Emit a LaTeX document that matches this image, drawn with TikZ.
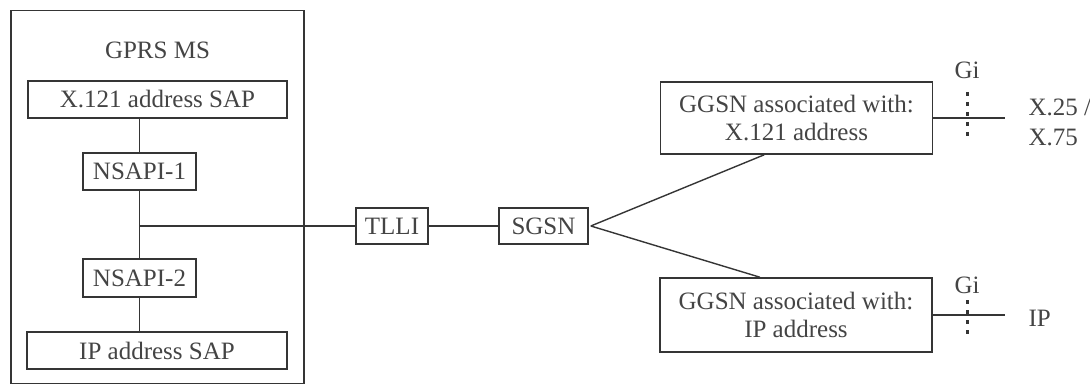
\documentclass[tikz,border=0pt]{standalone}
\usepackage{fontspec}
\setmainfont{Liberation Serif}
\usetikzlibrary{calc}
\definecolor{ink}{HTML}{353535}
\definecolor{txt}{HTML}{444444}
\begin{document}
\begin{tikzpicture}[x=1pt,y=-1pt,
  every node/.style={font=\fontsize{25}{28}\selectfont, text=txt},
  box/.style={draw=ink, line width=1.6pt, inner sep=0pt, align=center},
  conn/.style={draw=ink, line width=1.4pt},
  gidots/.style={draw=ink, line width=3pt, dash pattern=on 4pt off 6pt}]
\useasboundingbox (0,0) rectangle (1090,385);
% GPRS MS
\node[box, minimum width=293pt, minimum height=373pt] (ms) at (157.5,197) {};
\node (mslabel) at (157.5,50) {GPRS MS};
\node[box, minimum width=259pt, minimum height=37pt] (x121) at (157.5,99.5) {X.121 address SAP};
\node[box, minimum width=113pt, minimum height=37pt] (ns1) at (139.5,171.5) {NSAPI-1};
\node[box, minimum width=113pt, minimum height=38pt] (ns2) at (139.5,278) {NSAPI-2};
\node[box, minimum width=260pt, minimum height=37pt] (ipsap) at (157,350.5) {IP address SAP};
\coordinate (j) at (139.5,226);
\draw[conn] (ns1.north |- x121.south) -- (ns1.north);
\draw[conn] (ns1.south) -- (ns2.north);
\draw[conn] (ns2.south) -- (ns2.south |- ipsap.north);
% TLLI, SGSN
\node[box, minimum width=72pt, minimum height=36pt] (tlli) at (392,226) {TLLI};
\node[box, minimum width=89pt, minimum height=36pt] (sgsn) at (543.5,226) {SGSN};
\draw[conn] (j) -- (tlli.west);
\draw[conn] (tlli.east) -- (sgsn.west);
% GGSNs
\node[box, minimum width=272pt, minimum height=72pt] (gg1) at (796.5,118) {GGSN associated with:\\X.121 address};
\node[box, minimum width=272pt, minimum height=74pt] (gg2) at (796,315) {GGSN associated with:\\IP address};
\coordinate (s) at ($(sgsn.east)+(2,0)$);
\draw[conn] (s) -- ($(gg1.south west)!0.382!(gg1.south east)$);
\draw[conn] (s) -- ($(gg2.north west)!0.368!(gg2.north east)$);
% Gi interfaces
\coordinate (e1) at (1005,118);
\coordinate (e2) at (1005,315);
\draw[conn] (gg1.east) -- (e1);
\draw[conn] (gg2.east) -- (e2);
\node (gi1) at (967,70) {Gi};
\node (gi2) at (967,285) {Gi};
\coordinate (d1a) at (967,92);
\coordinate (d1b) at (967,138);
\coordinate (d2a) at (967,300);
\coordinate (d2b) at (967,334);
\draw[gidots] (d1a) -- (d1b);
\draw[gidots] (d2a) -- (d2b);
\node[anchor=west, align=left, font=\fontsize{25}{30}\selectfont] (x25) at (1025,122) {X.25 /\\X.75};
\node[anchor=west] (ip) at (1025,318) {IP};
\end{tikzpicture}
\end{document}
